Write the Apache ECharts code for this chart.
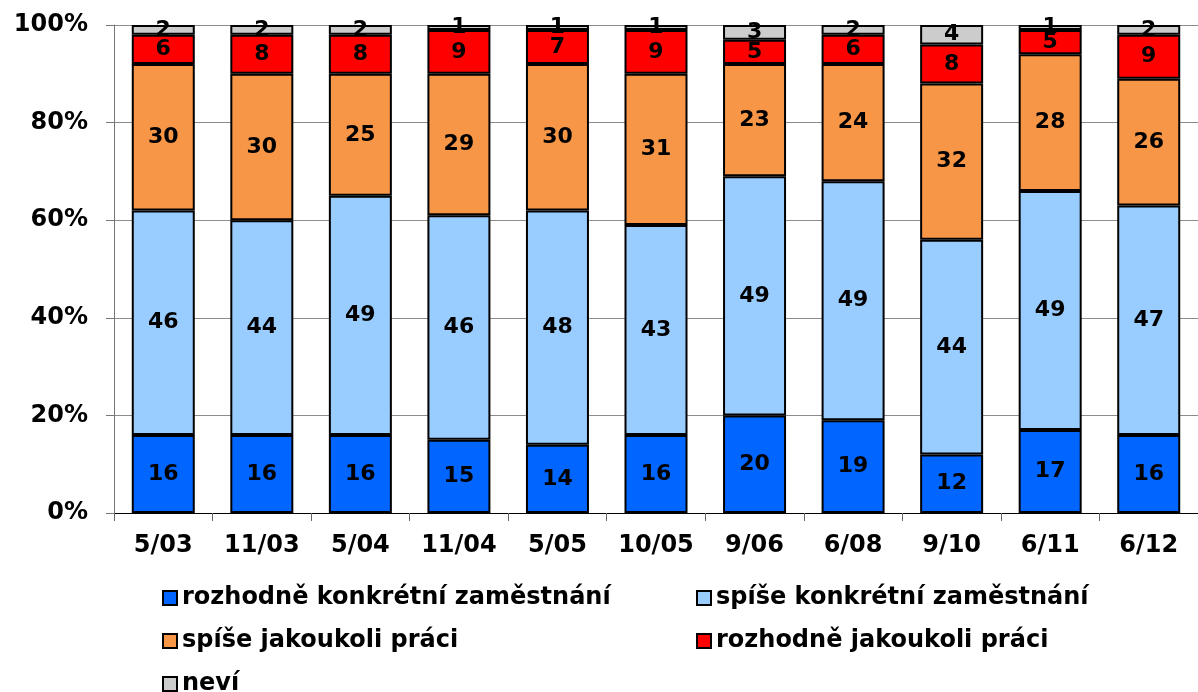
<!DOCTYPE html>
<html>
<head>
<meta charset="utf-8">
<script src="https://cdn.jsdelivr.net/npm/echarts@6/dist/echarts.min.js"></script>
<style>
  html,body{margin:0;padding:0;background:#fff;}
  #chart{width:1198px;height:692px;}
</style>
</head>
<body>
<div id="chart"></div>
<script>
var categories = ['5/03','11/03','5/04','11/04','5/05','10/05','9/06','6/08','9/10','6/11','6/12'];
var rozhodneKonkretni = [16,16,16,15,14,16,20,19,12,17,16];
var spiseKonkretni = [46,44,49,46,48,43,49,49,44,49,47];
var spiseJakoukoli = [30,30,25,29,30,31,23,24,32,28,26];
var rozhodneJakoukoli = [6,8,8,9,7,9,5,6,8,5,9];
var nevi = [2,2,2,1,1,1,3,2,4,1,2];
var yTicks = [0,20,40,60,80,100];

var seriesNames = ['rozhodně konkrétní zaměstnání','spíše konkrétní zaměstnání','spíše jakoukoli práci','rozhodně jakoukoli práci','neví'];
var seriesData = [rozhodneKonkretni, spiseKonkretni, spiseJakoukoli, rozhodneJakoukoli, nevi];
var colors = ['#0066FF','#99CCFF','#F79646','#FF0000','#CCCCCC'];
var font = 'DejaVu Sans';

var myChart = echarts.init(document.getElementById('chart'));

var series = seriesNames.map(function(name, i){
  return {
    name: name,
    type: 'bar',
    stack: 'total',
    barWidth: 63,
    data: seriesData[i],
    itemStyle: {color: colors[i], borderColor: '#000', borderWidth: 2},
    label: {
      show: true,
      position: 'inside',
      color: '#000',
      fontFamily: font,
      fontWeight: 'bold',
      fontSize: 22
    }
  };
});

// one legend per item, two columns like the original
var legendPos = [[162,600],[696,600],[162,643],[696,643],[162,686]];
var legends = seriesNames.map(function(name, i){
  return {
    data: [name],
    left: legendPos[i][0],
    top: legendPos[i][1] - 14,
    padding: 0,
    icon: 'rect',
    itemWidth: 14,
    itemHeight: 14,
    itemGap: 4,
    textStyle: {fontFamily: font, fontWeight: 'bold', fontSize: 24, color: '#000'},
    itemStyle: {borderColor: '#000', borderWidth: 2}
  };
});

var option = {
  animation: false,
  backgroundColor: '#fff',
  grid: {left: 114, top: 25, width: 1095, bottom: 179},
  legend: legends,
  xAxis: {
    type: 'category',
    data: categories,
    axisLine: {lineStyle: {color: '#000', width: 1}},
    axisTick: {show: true, length: 8, lineStyle: {color: '#666'}},
    axisLabel: {color: '#000', fontFamily: font, fontWeight: 'bold', fontSize: 24, margin: 21}
  },
  yAxis: {
    type: 'value',
    min: yTicks[0],
    max: yTicks[yTicks.length - 1],
    interval: 20,
    axisLine: {show: true, lineStyle: {color: '#777', width: 1}},
    axisTick: {show: true, length: 8, lineStyle: {color: '#777'}},
    splitLine: {show: true, lineStyle: {color: '#8c8c8c', width: 1}},
    axisLabel: {
      color: '#000', fontFamily: font, fontWeight: 'bold', fontSize: 24, margin: 26,
      formatter: '{value}%'
    }
  },
  series: series
};
myChart.setOption(option);
</script>
</body>
</html>
